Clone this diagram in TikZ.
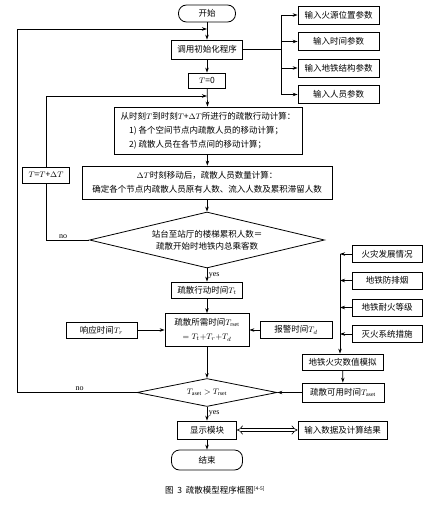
\documentclass[tikz,border=0pt]{standalone}
\usepackage{fontspec}
\usepackage{amsmath}
\setmainfont{Liberation Serif}
\newfontfamily\cjk{Noto Sans CJK SC}
\usetikzlibrary{shapes.geometric,arrows.meta}

\begin{document}
\begin{tikzpicture}[x=1pt,y=-1pt,
        font=\cjk\fontsize{8.5}{14}\selectfont,
        box/.style={draw, line width=0.8pt, inner sep=0pt, align=center},
        term/.style={box, rounded corners=8pt},
        cond/.style={draw, diamond, line width=0.8pt, inner sep=0pt, align=center},
        line/.style={line width=0.7pt},
        link/.style={line width=0.7pt, -{Stealth[length=5pt,width=3.5pt]}},
        dbl/.style={double, double distance=2.6pt, line width=0.6pt, {Implies}-{Implies}},
        lbl/.style={font=\rmfamily\fontsize{8}{10}\selectfont, inner sep=1.5pt}]
        \useasboundingbox (0,0) rectangle (433,513);

        % Coordinates
        \coordinate (farleft) at (17.7,0);
        \coordinate (busx) at (281,0);
        \coordinate (fbus) at (340,0);
        \coordinate (joinA) at (207,96);
        \coordinate (joinB) at (207,29);

        % Main column
        \node[term, minimum width=57, minimum height=17] (start) at (207,13.5) {开始};
        \node[box, minimum width=71, minimum height=19] (init) at (207,49.5) {调用初始化程序};
        \node[box, minimum width=37, minimum height=15] (tzero) at (207,80.5) {$T$=0};
        \node[box, minimum width=188, minimum height=47, align=left] (calc) at (208,130.5)
            {从时刻$T$到时刻$T$+$\Delta T$所进行的疏散行动计算：\\
             \hspace*{1em}1) 各个空间节点内疏散人员的移动计算；\\
             \hspace*{1em}2) 疏散人员在各节点间的移动计算；};
        \node[box, minimum width=250, minimum height=33] (count) at (207,182.5)
            {$\Delta T$时刻移动后，疏散人员数量计算：\\
             确定各个节点内疏散人员原有人数、流入人数及累积滞留人数};
        \node[cond, aspect=4, minimum width=235, minimum height=56,
              font=\cjk\fontsize{8.5}{12}\selectfont] (check) at (207,240)
            {站台至站厅的楼梯累积人数＝\\疏散开始时地铁内总乘客数};
        \node[box, minimum width=71, minimum height=16] (tmove) at (207,290) {疏散行动时间$T_t$};
        \node[box, minimum width=84, minimum height=33] (trset) at (207,330)
            {疏散所需时间$T_{\mathrm{rset}}$\\$={}T_t{+}T_r{+}T_d$};
        \node[cond, aspect=5, minimum width=140, minimum height=28] (cmp) at (207,392.5)
            {$T_{\mathrm{aset}}>T_{\mathrm{rset}}$};
        \node[box, minimum width=59, minimum height=18] (show) at (207,430) {显示模块};
        \node[term, minimum width=71, minimum height=20] (finish) at (207,460) {结束};

        % Side boxes
        \node[box, minimum width=47, minimum height=16] (tstep) at (46,175) {$T$=$T$+$\Delta T$};
        \node[box, minimum width=71, minimum height=16] (tresp) at (101.5,330) {响应时间$T_r$};
        \node[box, minimum width=72, minimum height=17] (talarm) at (296,330) {报警时间$T_d$};
        \node[box, minimum width=81, minimum height=18] (inA) at (338.5,15) {输入火源位置参数};
        \node[box, minimum width=81, minimum height=18] (inB) at (338.5,41.5) {输入时间参数};
        \node[box, minimum width=81, minimum height=18] (inC) at (338.5,68) {输入地铁结构参数};
        \node[box, minimum width=81, minimum height=18] (inD) at (338.5,94.5) {输入人员参数};
        \node[box, minimum width=70, minimum height=17] (fA) at (387,254) {火灾发展情况};
        \node[box, minimum width=70, minimum height=17] (fB) at (387,280.5) {地铁防排烟};
        \node[box, minimum width=70, minimum height=17] (fC) at (387,307.5) {地铁耐火等级};
        \node[box, minimum width=70, minimum height=17] (fD) at (387,334) {灭火系统措施};
        \node[box, minimum width=81, minimum height=16] (sim) at (342.5,362) {地铁火灾数值模拟};
        \node[box, minimum width=82, minimum height=19] (aset) at (343,392.5) {疏散可用时间$T_{\mathrm{aset}}$};
        \node[box, minimum width=89, minimum height=18] (result) at (342.5,430) {输入数据及计算结果};

        % Drawing
        \draw[link] (start) -- (init);
        \draw[link] (init) -- (tzero);
        \draw[link] (tzero) -- (calc);
        \draw[link] (calc) -- (count);
        \draw[link] (count) -- (check);
        \draw[link] (check) -- node[right, lbl] {yes} (tmove);
        \draw[link] (tmove) -- (trset);
        \draw[link] (tresp) -- (trset);
        \draw[link] (talarm) -- (trset);
        \draw[link] (trset) -- (cmp);
        \draw[link] (cmp) -- node[right, lbl] {yes} (show);
        \draw[link] (show) -- (finish);
        \draw[line] (check.west) -- node[above, lbl, pos=0.6] {no} (check.west -| tstep) -- (tstep.south);
        \draw[link] (tstep.north) |- (joinA);
        \draw[link] (cmp.west) -- node[above, lbl, pos=0.48] {no} (cmp.west -| farleft) |- (joinB);
        \draw[line] (init) -- (init -| busx);
        \draw[line] (inA.west -| busx) -- (inD.west -| busx);
        \foreach \n in {inA,inB,inC,inD}
            \draw[link] (\n.west -| busx) -- (\n.west);
        \foreach \n in {fA,fB,fC,fD}
            \draw[link] (\n.west) -- (\n.west -| fbus);
        \draw[link] (fA.west -| fbus) -- (fbus |- sim.north);
        \draw[link] (sim) -- (aset);
        \draw[link] (aset) -- (cmp);
        \draw[dbl] (show) -- (result);
        \node[font=\cjk\fontsize{8.5}{10}\selectfont] (caption) at (215,490)
            {图\ \ 3\ \ 疏散模型程序框图\textsuperscript{\fontsize{5}{6}\selectfont [4-5]}};
    \end{tikzpicture}
\end{document}
